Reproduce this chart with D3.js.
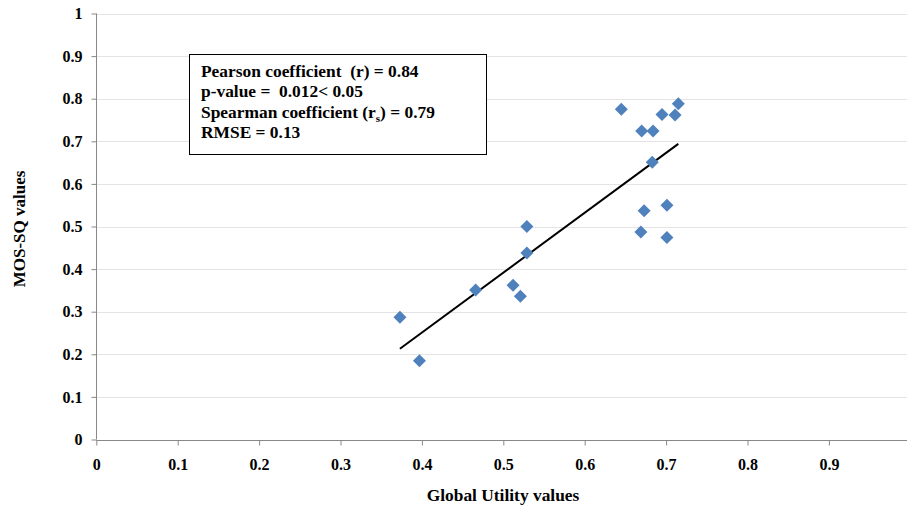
<!DOCTYPE html>
<html><head><meta charset="utf-8">
<script src="https://cdn.jsdelivr.net/npm/d3@7"></script>
<style>
body{margin:0;background:#fff;}
</style></head>
<body><svg id="c" width="907" height="508"></svg>
<script>
const globalUtility = [0.373,0.397,0.466,0.529,0.529,0.512,0.521,0.645,0.670,0.684,0.695,0.711,0.715,0.683,0.673,0.701,0.669,0.701];
const mosSQ        = [0.287,0.185,0.351,0.500,0.438,0.362,0.336,0.775,0.724,0.724,0.763,0.762,0.788,0.651,0.537,0.550,0.487,0.474];
const trendLine = [[0.373,0.213],[0.715,0.694]];
const xTicks = [0,0.1,0.2,0.3,0.4,0.5,0.6,0.7,0.8,0.9,1];
const yTicks = [0,0.1,0.2,0.3,0.4,0.5,0.6,0.7,0.8,0.9,1];
const statLines = ["Pearson coefficient  (r) = 0.84","p-value =  0.012< 0.05","Spearman coefficient (r_s) = 0.79","RMSE = 0.13"];

const FONT = "\"Liberation Serif\"";
const svg = d3.select("#c");
const x = d3.scaleLinear().domain([0,1]).range([96.3,910.3]);
const y = d3.scaleLinear().domain([0,1]).range([439.5,13.5]);

function styleText(sel,size){
  sel.style("font-family",FONT).style("font-weight","bold").style("font-size",size+"px").attr("fill","#000");
}

// gridlines
svg.append("g").selectAll("line").data(yTicks.filter(d=>d>0)).join("line")
  .attr("x1",x(0)).attr("x2",907).attr("y1",d=>Math.round(y(d))+0.5).attr("y2",d=>Math.round(y(d))+0.5)
  .attr("stroke","#e4e4e4").attr("stroke-width",1.2);

// y axis
const yAx = svg.append("g").attr("transform",`translate(${Math.round(x(0))+0.5},0)`)
  .call(d3.axisLeft(y).tickValues(yTicks).tickFormat(d3.format("")).tickSize(5).tickPadding(9));
yAx.attr("font-family",null).attr("font-size",null);
yAx.select(".domain").attr("stroke","#888").attr("d",`M-0,${y(1)}V${y(0)}`);
yAx.selectAll(".tick line").attr("stroke","#888");
styleText(yAx.selectAll(".tick text"),16);

// x axis
const xAx = svg.append("g").attr("transform",`translate(0,${Math.round(y(0))+0.5})`)
  .call(d3.axisBottom(x).tickValues(xTicks).tickFormat(d3.format("")).tickSize(5).tickPadding(13));
xAx.attr("font-family",null).attr("font-size",null);
xAx.select(".domain").attr("stroke","#888").attr("d",`M${x(0)},0H${x(1)}`);
xAx.selectAll(".tick line").attr("stroke","#888");
styleText(xAx.selectAll(".tick text"),16);

// trend line
svg.append("line")
  .attr("x1",x(trendLine[0][0])).attr("y1",y(trendLine[0][1]))
  .attr("x2",x(trendLine[1][0])).attr("y2",y(trendLine[1][1]))
  .attr("stroke","#000").attr("stroke-width",2);

// points
const pts = globalUtility.map((g,i)=>[g,mosSQ[i]]);
const r = 6.5;
svg.append("g").selectAll("path").data(pts).join("path")
  .attr("d",d=>{const cx=x(d[0]),cy=y(d[1]);return `M${cx},${cy-r}L${cx+r},${cy}L${cx},${cy+r}L${cx-r},${cy}Z`;})
  .attr("fill","#4f81bd");

// stats box
svg.append("rect").attr("x",189.5).attr("y",54.5).attr("width",297).attr("height",100)
  .attr("fill","#fff").attr("stroke","#000").attr("stroke-width",1);
const tb = svg.append("g");
statLines.forEach((s,i)=>{
  const t = tb.append("text").attr("x",201).attr("y",77+i*20.3).style("white-space","pre");
  styleText(t,17.4);
  if(s.includes("r_s")){
    const parts = s.split("r_s");
    t.append("tspan").text(parts[0]+"r");
    t.append("tspan").style("font-size","11px").attr("dy",4).text("s");
    t.append("tspan").attr("dy",-4).text(parts[1]);
  } else t.text(s);
});

// axis titles
styleText(svg.append("text").attr("x",503).attr("y",501).attr("text-anchor","middle").text("Global Utility values"),17.4);
styleText(svg.append("text").attr("transform","translate(25,229) rotate(-90)").attr("text-anchor","middle").text("MOS-SQ values"),17);
</script></body></html>
